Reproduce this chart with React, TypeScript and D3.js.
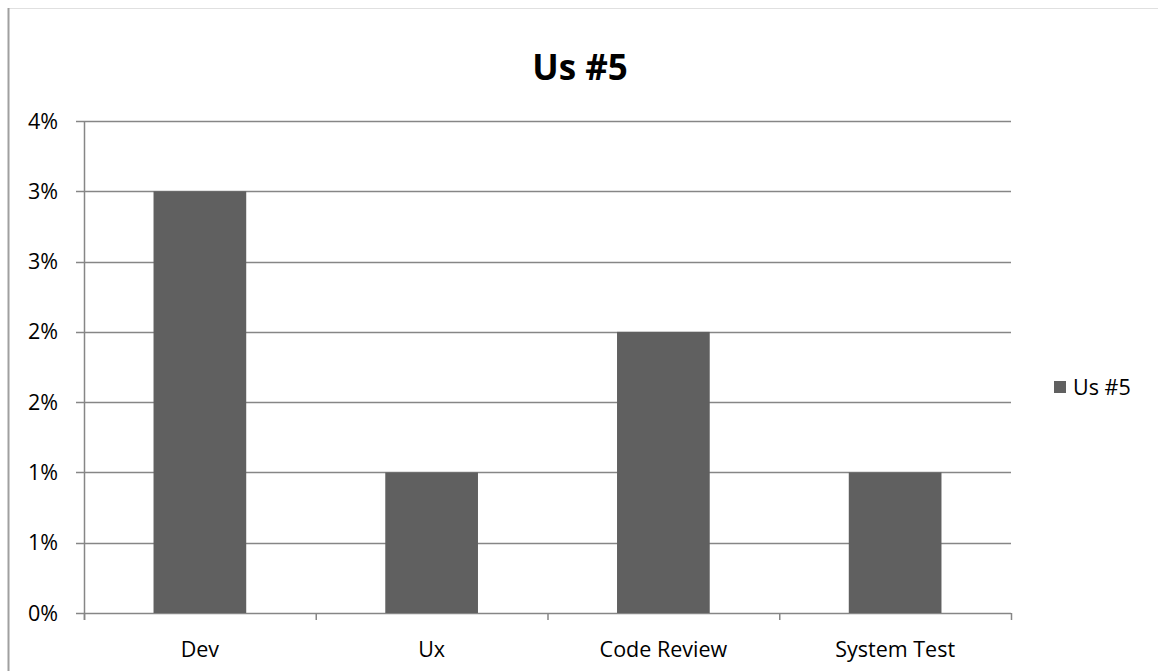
import React from "react";
import * as d3 from "d3";

const categories = ["Dev", "Ux", "Code Review", "System Test"];
const values = [0.03, 0.01, 0.02, 0.01];
const yTicks = [0, 0.005, 0.01, 0.015, 0.02, 0.025, 0.03, 0.035];
const seriesName = "Us #5";
const title = "Us #5";

export default function App() {
  const W = 1158, H = 671;
  const left = 84, right = 1011, top = 121, bottom = 613;
  const x = d3.scaleBand<string>().domain(categories).range([left, right]).paddingInner(0).paddingOuter(0);
  const y = d3.scaleLinear().domain([0, 0.035]).range([bottom, top]);
  const bw = x.bandwidth() * 0.4;
  const fmt = (v: number) => `${Math.floor(v * 100 + 0.5 + 1e-9)}%`;
  const font = "'Open Sans', 'Liberation Sans', sans-serif";
  const boundaries = [...categories.map((c) => x(c)!), right];
  return (
    <svg width={W} height={H} style={{ position: "absolute", left: 0, top: 0 }} fontFamily={font}>
      <rect x={0} y={0} width={W} height={H} fill="#fff" />
      <line x1={8} x2={W} y1={8.5} y2={8.5} stroke="#e0e0e0" strokeWidth={1} />
      <line x1={8.5} x2={8.5} y1={8} y2={H} stroke="#a0a0a0" strokeWidth={2} />
      <text x={580} y={80} textAnchor="middle" fontSize={35} fontWeight="bold" fill="#000">{title}</text>
      {yTicks.map((t) => (
        <g key={t}>
          <line x1={76} x2={right} y1={Math.round(y(t)) + 0.5} y2={Math.round(y(t)) + 0.5} stroke="#868686" strokeWidth={1.5} />
          <text x={58} y={y(t) + 7.5} textAnchor="end" fontSize={21.5} fill="#000">{fmt(t)}</text>
        </g>
      ))}
      {categories.map((c, i) => (
        <rect key={c} x={x(c)! + (x.bandwidth() - bw) / 2} y={y(values[i])} width={bw} height={y(0) - y(values[i])} fill="#606060" />
      ))}
      <line x1={left + 0.5} x2={left + 0.5} y1={top} y2={bottom + 7} stroke="#868686" strokeWidth={1.5} />
      {boundaries.map((b, i) => (
        <line key={i} x1={b + 0.5} x2={b + 0.5} y1={bottom} y2={bottom + 7} stroke="#868686" strokeWidth={1.5} />
      ))}
      {categories.map((c) => (
        <text key={c} x={x(c)! + x.bandwidth() / 2} y={657} textAnchor="middle" fontSize={21.5} fill="#000">{c}</text>
      ))}
      <rect x={1054} y={381} width={12} height={12} fill="#606060" />
      <text x={1073} y={394.5} fontSize={21.5} fill="#000">{seriesName}</text>
    </svg>
  );
}
